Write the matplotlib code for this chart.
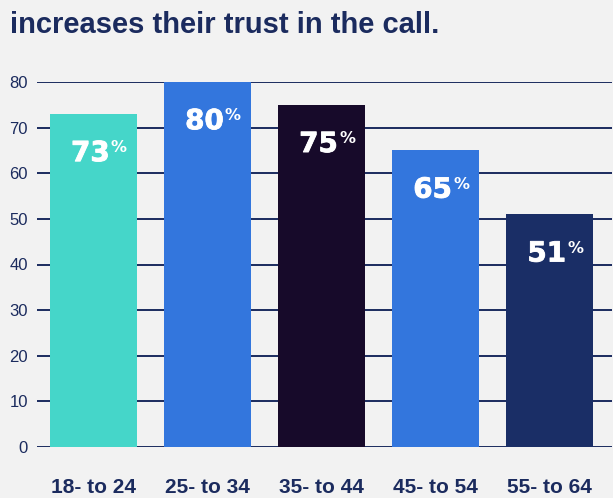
import matplotlib.pyplot as plt
import matplotlib.patheffects as pe

age_groups = ["18- to 24", "25- to 34", "35- to 44", "45- to 54", "55- to 64"]
trust_pct = [73, 80, 75, 65, 51]
bar_colors = ["#45d6c9", "#3376dd", "#170a2a", "#3376dd", "#1a2e66"]

navy = "#1b2b5e"
bg = "#f2f2f2"

plt.rcParams["font.family"] = ["Liberation Sans", "DejaVu Sans"]

fig = plt.figure(figsize=(6.13, 4.98), dpi=100, facecolor=bg)
ax = fig.add_axes([37 / 613, 1 - 447 / 498, 575 / 613, 365 / 498])
ax.set_facecolor(bg)

x = range(len(age_groups))
ax.bar(x, trust_pct, width=0.76, color=bar_colors, zorder=3)

ax.set_xlim(-0.495, 4.545)
ax.set_ylim(0, 80)
ax.set_yticks(range(0, 81, 10))
ax.yaxis.grid(True, color=navy, linewidth=1.4, zorder=0)
ax.set_axisbelow(True)
for s in ax.spines.values():
    s.set_visible(False)

ax.tick_params(axis="y", length=0, pad=6.5, labelsize=12, labelcolor=navy)
ax.tick_params(axis="x", length=0, pad=22, labelsize=15, labelcolor=navy)
ax.set_xticks(list(x))
ax.set_xticklabels(age_groups, fontweight="bold")

# value labels: big number plus a small raised percent sign
bold_fx = [pe.withStroke(linewidth=0.6, foreground="white")]
for i, v in enumerate(trust_pct):
    ax.annotate(str(v), (i, v), xytext=(-2.2, -34), textcoords="offset points",
                ha="center", va="baseline", color="white", fontsize=20,
                fontweight="bold", family="DejaVu Sans", zorder=4,
                path_effects=bold_fx)
    ax.annotate("%", (i, v), xytext=(12.5, -27.5), textcoords="offset points",
                ha="left", va="baseline", color="white", fontsize=11.5,
                fontweight="bold", family="DejaVu Sans", zorder=4)

fig.text(10 / 613, 1 - 25 / 498, "increases their trust in the call.",
         ha="left", va="center", fontsize=21, fontweight="bold", color=navy)

fig.savefig("out.png", dpi=100, facecolor=bg)
